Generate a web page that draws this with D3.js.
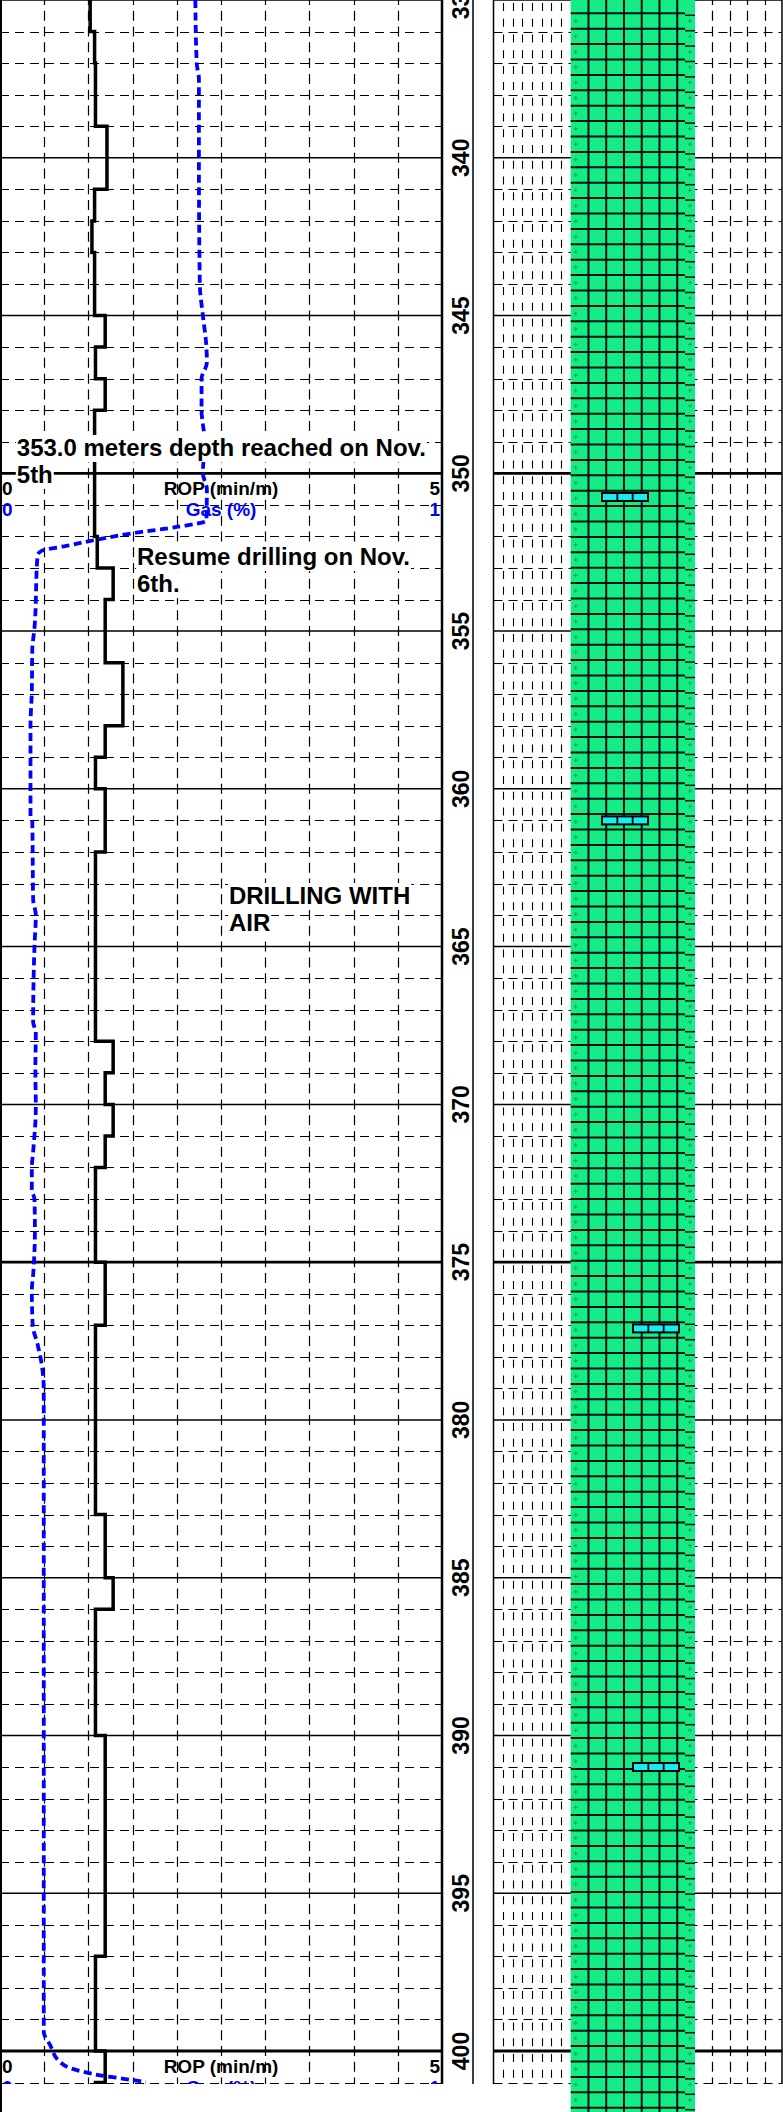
<!DOCTYPE html>
<html>
<head>
<meta charset="utf-8">
<script src="https://cdn.jsdelivr.net/npm/d3@7"></script>
<style>
  body { margin: 0; background: #fff; }
  svg { display: block; }
  text { font-family: Arial, "Liberation Sans", sans-serif; font-weight: bold; }
</style>
</head>
<body>
<div id="log"></div>
<script>
// ROP step values (min/m), each value holds from its top depth down to the next one
var ropTop = [335, 336, 337, 339, 341, 342, 343, 345, 346, 347, 348, 352, 353, 354, 356, 358, 359, 360, 362, 368,
              369, 370, 371, 372, 375, 377, 383, 385, 386, 390, 397, 400, 401];
var ropValue = [1.02, 1.07, 1.08, 1.21, 1.07, 1.04, 1.07, 1.19, 1.08, 1.19, 1.07, 1.10, 1.28, 1.19, 1.39, 1.19, 1.08, 1.19, 1.08, 1.28,
                1.19, 1.28, 1.19, 1.08, 1.19, 1.08, 1.19, 1.28, 1.08, 1.19, 1.08, 1.19, 1.08];
var ropBottom = 402;

// Gas (%) curve
var gasDepth = [335.0, 337.0, 337.5, 340.0, 344.0, 345.0, 346.0, 346.5, 347.0, 348.0,
                349.0, 350.0, 350.5, 351.5, 351.7, 351.9, 352.1, 352.3, 352.45, 352.6,
                354.9, 355.6, 356.9, 358.0, 360.9, 361.0, 363.5, 364.0, 365.0, 367.4,
                367.7, 368.9, 370.1, 371.5, 372.0, 372.7, 373.0, 374.0, 375.4, 375.9,
                377.0, 377.6, 378.4, 379.1, 399.4, 399.8, 400.35, 400.55, 400.68, 400.78,
                400.88, 400.99];
var gasValue = [0.442, 0.445, 0.450, 0.450, 0.452, 0.459, 0.467, 0.468, 0.456, 0.456,
                0.463, 0.459, 0.468, 0.467, 0.40, 0.30, 0.22, 0.15, 0.095, 0.085,
                0.078, 0.073, 0.072, 0.069, 0.069, 0.073, 0.075, 0.081, 0.078, 0.075,
                0.081, 0.080, 0.081, 0.075, 0.072, 0.072, 0.078, 0.079, 0.075, 0.072,
                0.074, 0.085, 0.096, 0.099, 0.099, 0.113, 0.136, 0.160, 0.195, 0.23,
                0.28, 0.33];

var depthLabels = [335, 340, 345, 350, 355, 360, 365, 370, 375, 380, 385, 390, 395, 400];
var headerDepths = [350, 400];
var limestoneBeds = [350.75, 361.0, 377.1, 391.0];

var noteDepth = [349.45, 352.91, 363.65];
var noteRop = [0.19, 1.55, 2.59];
var noteText = [["353.0 meters depth reached on Nov.", "5th"],
                ["Resume drilling on Nov.", "6th."],
                ["DRILLING WITH", "AIR"]];

// ---- layout ----
var svgWidth = 783;
var svgHeight = 2112;
var clipBottom = 2084;

var trackRight = 442;
var depthRight = 473;
var lithLeft = 493.5;
var lithRight = 782;
var greenLeft = 570.7;
var greenRight = 695;

var y = d3.scaleLinear().domain([335, 400]).range([0, 2051]);
var ropX = d3.scaleLinear().domain([0, 5]).range([0, trackRight]);
var gasX = d3.scaleLinear().domain([0, 1]).range([0, trackRight]);
var half = (y(336) - y(335)) / 2;   // vertical dash period: half a metre
var crisp = v => Math.round(v) + 0.5;

var svg = d3.select("#log")
  .append("svg")
  .attr("width", svgWidth)
  .attr("height", svgHeight);

svg.append("rect").attr("width", svgWidth).attr("height", svgHeight).attr("fill", "#fff");

var defs = svg.append("defs");
defs.append("clipPath").attr("id", "panel")
  .append("rect").attr("x", 0).attr("y", 0).attr("width", svgWidth).attr("height", clipBottom);

// dithered green fill
var pat = defs.append("pattern")
  .attr("id", "greenDither")
  .attr("patternUnits", "userSpaceOnUse")
  .attr("width", 2).attr("height", 2);
pat.append("rect").attr("width", 2).attr("height", 2).attr("fill", "#00ff80");
pat.append("rect").attr("width", 1).attr("height", 1).attr("fill", "#2ad88e");
pat.append("rect").attr("x", 1).attr("y", 1).attr("width", 1).attr("height", 1).attr("fill", "#2ad88e");

var panel = svg.append("g").attr("clip-path", "url(#panel)");

// ---- depth grid ----
var meters = d3.range(335, 402);
var gridGroup = panel.append("g");

[[0, trackRight], [lithLeft, lithRight]].forEach(function(span) {
  gridGroup.selectAll(null)
    .data(meters)
    .enter()
    .append("line")
    .attr("x1", span[0])
    .attr("x2", span[1])
    .attr("y1", d => d % 5 === 0 ? y(d) : crisp(y(d)))
    .attr("y2", d => d % 5 === 0 ? y(d) : crisp(y(d)))
    .attr("stroke", "#000")
    .attr("stroke-width", d => d % 25 === 0 ? 2.8 : (d % 5 === 0 ? 1.5 : 1))
    .attr("stroke-dasharray", d => d % 5 === 0 ? null : "9,6");
});

// vertical grid in ROP track
gridGroup.selectAll(".vgrid")
  .data(ropX.ticks(10).filter(v => v > 0 && v < 5))
  .enter()
  .append("line")
  .attr("x1", d => crisp(ropX(d)))
  .attr("x2", d => crisp(ropX(d)))
  .attr("y1", 0)
  .attr("y2", clipBottom)
  .attr("stroke", "#000")
  .attr("stroke-width", 1.2)
  .attr("stroke-dasharray", "10," + (half - 10))
  .attr("stroke-dashoffset", 5);

// short vertical ticks either side of the lithology column
var lithLeftX = d3.scaleLinear().domain([0, 8]).range([lithLeft, greenLeft]);
gridGroup.selectAll(".ltick")
  .data(d3.range(1, 8))
  .enter()
  .append("line")
  .attr("x1", d => crisp(lithLeftX(d)))
  .attr("x2", d => crisp(lithLeftX(d)))
  .attr("y1", 0)
  .attr("y2", clipBottom)
  .attr("stroke", "#000")
  .attr("stroke-width", 1.1)
  .attr("stroke-dasharray", "8," + (half - 8))
  .attr("stroke-dashoffset", half - 3);

var lithRightX = d3.scaleLinear().domain([0, 5]).range([greenRight, lithRight]);
gridGroup.selectAll(".rtick")
  .data(d3.range(1, 5))
  .enter()
  .append("line")
  .attr("x1", d => crisp(lithRightX(d)))
  .attr("x2", d => crisp(lithRightX(d)))
  .attr("y1", 0)
  .attr("y2", clipBottom)
  .attr("stroke", "#000")
  .attr("stroke-width", 1.2)
  .attr("stroke-dasharray", "10," + (half - 10))
  .attr("stroke-dashoffset", 5);

// ---- lithology column (runs past the page bottom) ----
var lith = svg.append("g");
lith.append("rect")
  .attr("x", greenLeft)
  .attr("y", 0)
  .attr("width", greenRight - greenLeft)
  .attr("height", svgHeight)
  .attr("fill", "url(#greenDither)");

var cellW = (greenRight - greenLeft) / 7;
var rowH = 15.4;
var rows = d3.range(0, Math.ceil(svgHeight / rowH) + 1).map(k => 13.3 + k * rowH);

lith.selectAll(".gv")
  .data(d3.range(1, 7))
  .enter()
  .append("line")
  .attr("x1", d => greenLeft + d * cellW)
  .attr("x2", d => greenLeft + d * cellW)
  .attr("y1", 0)
  .attr("y2", svgHeight)
  .attr("stroke", "#021010")
  .attr("stroke-width", 2);

lith.selectAll(".gh")
  .data(rows)
  .enter()
  .append("line")
  .attr("x1", greenLeft)
  .attr("x2", greenRight - 10)
  .attr("y1", d => d)
  .attr("y2", d => d)
  .attr("stroke", "#021010")
  .attr("stroke-width", 2);

lith.selectAll(".gh2")
  .data(rows)
  .enter()
  .append("line")
  .attr("x1", greenRight - 10)
  .attr("x2", greenRight)
  .attr("y1", d => d + 2)
  .attr("y2", d => d + 2)
  .attr("stroke", "#021010")
  .attr("stroke-width", 1.5);

// little green crosses in the edge cells
[greenLeft + 5, greenRight - 5].forEach(function(cx) {
  lith.selectAll(null)
    .data(rows)
    .enter()
    .append("path")
    .attr("d", d => "M" + (cx - 2) + "," + (d + rowH / 2) + "h4M" + cx + "," + (d + rowH / 2 - 2) + "v4")
    .attr("stroke", "#00b030")
    .attr("stroke-width", 1);
});

// limestone stringers
var bedW = 46;
var beds = lith.selectAll(".bed")
  .data(limestoneBeds)
  .enter()
  .append("g")
  .attr("transform", d => "translate(" + (d < 375 ? 602 : 633) + "," + (y(d) - 4) + ")");

beds.append("rect")
  .attr("width", bedW)
  .attr("height", 8)
  .attr("fill", "#14eef4")
  .attr("stroke", "#000")
  .attr("stroke-width", 2);

beds.selectAll("line")
  .data([1, 2])
  .enter()
  .append("line")
  .attr("x1", d => d * bedW / 3)
  .attr("x2", d => d * bedW / 3)
  .attr("y1", 0)
  .attr("y2", 8)
  .attr("stroke", "#000")
  .attr("stroke-width", 1.8);

// ---- curve headers at page breaks ----
var headers = panel.selectAll(".hdr")
  .data(headerDepths)
  .enter()
  .append("g")
  .attr("transform", d => "translate(0," + y(d) + ")")
  .style("font-size", "19px");

headers.append("text").attr("x", 2).attr("y", 22).text("0");
headers.append("text").attr("x", trackRight / 2).attr("y", 22).attr("text-anchor", "middle").text("ROP (min/m)");
headers.append("text").attr("x", trackRight - 2).attr("y", 22).attr("text-anchor", "end").text("5");
headers.append("text").attr("x", 2).attr("y", 43).attr("fill", "#0000ff").text("0");
headers.append("text").attr("x", trackRight / 2).attr("y", 43).attr("text-anchor", "middle").attr("fill", "#0000ff").text("Gas (%)");
headers.append("text").attr("x", trackRight - 2).attr("y", 43).attr("text-anchor", "end").attr("fill", "#0000ff").text("1");

// ---- curves ----
var ropPoints = ropTop.map((d, i) => [ropValue[i], d]);
ropPoints.push([ropValue[ropValue.length - 1], ropBottom]);

var ropLine = d3.line()
  .x(d => ropX(d[0]))
  .y(d => y(d[1]))
  .curve(d3.curveStepBefore);

panel.append("path")
  .datum(ropPoints)
  .attr("d", ropLine)
  .attr("fill", "none")
  .attr("stroke", "#000")
  .attr("stroke-width", 3.5);

var gasPoints = gasDepth.map((d, i) => [gasValue[i], d]);
var gasLine = d3.line()
  .x(d => gasX(d[0]))
  .y(d => y(d[1]))
  .curve(d3.curveMonotoneY);

panel.append("path")
  .datum(gasPoints)
  .attr("d", gasLine)
  .attr("fill", "none")
  .attr("stroke", "#0000ff")
  .attr("stroke-width", 3.8)
  .attr("stroke-dasharray", "8,4.5");

// ---- remarks with white backing per line ----
noteText.forEach(function(lines, i) {
  var g = panel.append("g").style("font-size", "24px");
  lines.forEach(function(t, j) {
    var by = y(noteDepth[i]) + j * 27;
    var bg = g.append("rect").attr("fill", "#fff");
    var txt = g.append("text")
      .attr("x", ropX(noteRop[i]))
      .attr("y", by)
      .text(t);
    var w = txt.node().getComputedTextLength();
    bg.attr("x", ropX(noteRop[i]) - 1)
      .attr("y", by - 21)
      .attr("width", w + 2)
      .attr("height", 27);
  });
});

// ---- depth labels ----
panel.selectAll(".depth")
  .data(depthLabels)
  .enter()
  .append("text")
  .attr("transform", d => "translate(469," + y(d) + ") rotate(-90)")
  .attr("text-anchor", "middle")
  .style("font-size", "23px")
  .text(d => d);

// ---- track borders ----
svg.append("line")
  .attr("x1", 1).attr("x2", 1).attr("y1", 0).attr("y2", svgHeight)
  .attr("stroke", "#000").attr("stroke-width", 2);

[[trackRight, 2.5], [depthRight, 1.5], [lithLeft, 1.5], [lithRight, 1.5]].forEach(function(b) {
  panel.append("line")
    .attr("x1", b[0]).attr("x2", b[0])
    .attr("y1", 0).attr("y2", clipBottom)
    .attr("stroke", "#000")
    .attr("stroke-width", b[1]);
});
</script>
</body>
</html>
